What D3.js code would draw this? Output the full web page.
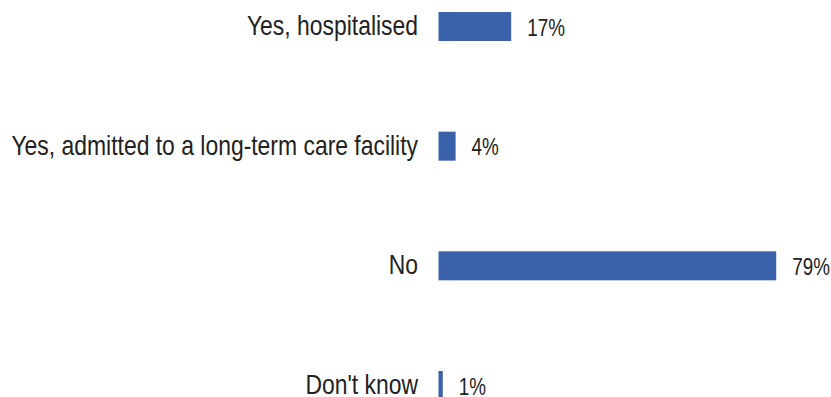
<!DOCTYPE html>
<html>
<head>
<meta charset="utf-8">
<script src="https://cdn.jsdelivr.net/npm/d3@7"></script>
<style>
  body { margin: 0; background: #fff; }
</style>
</head>
<body>
<div id="chart"></div>
<script>
// data
var categories = ["Yes, hospitalised", "Yes, admitted to a long-term care facility", "No", "Don't know"];
var values = [17, 4, 79, 1];
var valueLabels = ["17%", "4%", "79%", "1%"];

var svgWidth = 831;
var svgHeight = 397;
var labelSize = 27;
var valueSize = 23;

var svg = d3.select("#chart")
    .append("svg")
    .attr("width", svgWidth)
    .attr("height", svgHeight);

// check whether a narrow font is installed, otherwise squeeze the regular one
var probe = svg.append("text")
    .attr("font-family", "Liberation Sans Narrow")
    .attr("font-size", 100)
    .text("Yes, hospitalised");
var narrowW = probe.node().getComputedTextLength();
probe.attr("font-family", "Liberation Sans");
var regularW = probe.node().getComputedTextLength();
probe.remove();
var hasNarrow = narrowW / regularW < 0.9;
var family = hasNarrow ? "'Liberation Sans Narrow', 'Arial Narrow', sans-serif" : "'Liberation Sans', Arial, sans-serif";
var squeeze = hasNarrow ? 1 : 0.82;

// scales
var xScale = d3.scaleLinear()
    .domain([0, 100])
    .range([438.5, 866]);

var yScale = d3.scalePoint()
    .domain(categories)
    .range([26.5, 385.5]);

var barHeight = 29;

var rows = svg.selectAll(".row")
    .data(categories)
    .enter()
    .append("g")
    .classed("row", true);

// bars
rows.append("rect")
    .attr("x", xScale(0))
    .attr("y", d => yScale(d) - barHeight / 2)
    .attr("width", (d, i) => xScale(values[i]) - xScale(0))
    .attr("height", barHeight)
    .attr("fill", "#3A62AB");

// category labels
rows.append("text")
    .attr("transform", d => `translate(418, ${yScale(d) + 8.5}) scale(${squeeze * 1.035}, 1)`)
    .attr("text-anchor", "end")
    .attr("font-family", family)
    .attr("font-size", labelSize)
    .attr("fill", "#222")
    .text(d => d);

// value labels
rows.append("text")
    .attr("transform", (d, i) => `translate(${xScale(values[i]) + 16}, ${yScale(d) + 9}) scale(${squeeze}, 1)`)
    .attr("font-family", family)
    .attr("font-size", valueSize)
    .attr("fill", "#222")
    .text((d, i) => valueLabels[i]);
</script>
</body>
</html>
